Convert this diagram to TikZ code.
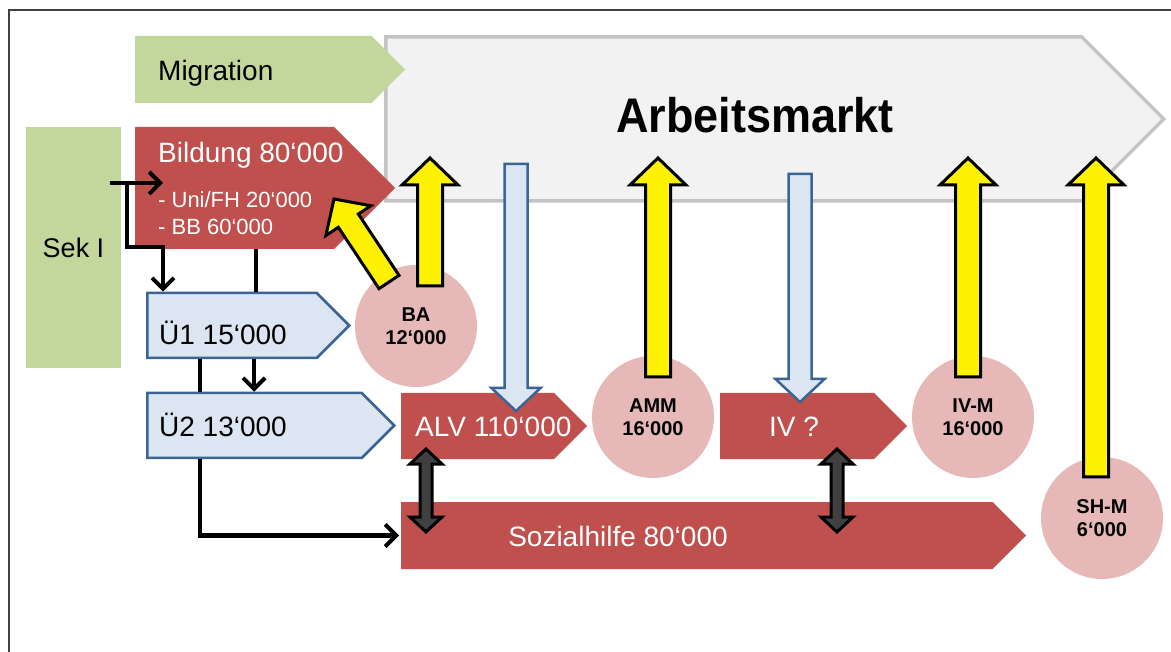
\documentclass[tikz,border=0pt]{standalone}
\usepackage{fontspec}
\setmainfont{Liberation Sans}
\usetikzlibrary{shapes.symbols,arrows.meta,calc,positioning}

\definecolor{migreen}{HTML}{C3D69B}
\definecolor{boxred}{HTML}{C0504D}
\definecolor{paleblue}{HTML}{DCE6F2}
\definecolor{edgeblue}{HTML}{3A6496}
\definecolor{rosy}{HTML}{E6B9B8}
\definecolor{marktgray}{HTML}{F2F2F2}
\definecolor{marktedge}{HTML}{C3C3C3}
\definecolor{darkfill}{HTML}{404040}

\tikzset{
  chev/.style={signal, signal to=east, signal pointer angle=90, inner sep=0pt, anchor=west},
  redchev/.style={chev, fill=boxred},
  bluechev/.style={chev, fill=paleblue, draw=edgeblue, line width=2.5pt},
  rund/.style={circle, fill=rosy, minimum size=122pt, inner sep=0pt, align=center,
    font=\bfseries\fontsize{20}{23}\selectfont},
  lbl/.style={inner sep=0pt, font=\fontsize{28}{32}\selectfont},
  wlbl/.style={lbl, text=white},
  sublbl/.style={inner sep=0pt, text=white, font=\fontsize{22}{26}\selectfont},
  pfad/.style={draw=black, line width=4.5pt},
  pfadpfeil/.style={pfad, -{Straight Barb[length=11pt,width=22pt,line width=4pt]}},
  yarrow/.style={fill=yellow, draw=black, line width=3pt},
  barrow/.style={fill=paleblue, draw=edgeblue, line width=2.5pt},
  darrow/.style={fill=darkfill, draw=black, line width=3pt},
}

% block arrow: style, from, to, half shaft, half head, head length
\newcommand{\fatarrow}[6][]{%
  \coordinate (fa-s) at (#2);
  \coordinate (fa-t) at (#3);
  \coordinate (fa-b) at ($(fa-t)!#6!(fa-s)$);
  \draw[#1] ($(fa-s)!#4!90:(fa-t)$) -- ($(fa-b)!#4!-90:(fa-s)$) -- ($(fa-b)!#5!-90:(fa-s)$)
    -- (fa-t) -- ($(fa-b)!#5!90:(fa-s)$) -- ($(fa-b)!#4!90:(fa-s)$) -- ($(fa-s)!#4!-90:(fa-t)$) -- cycle;
}
% double block arrow: style, tip a, tip b, half shaft, half head, head length
\newcommand{\dblarrow}[6][]{%
  \coordinate (da-a) at (#2);
  \coordinate (da-b) at (#3);
  \coordinate (da-ab) at ($(da-a)!#6!(da-b)$);
  \coordinate (da-bb) at ($(da-b)!#6!(da-a)$);
  \draw[#1] (da-a) -- ($(da-ab)!#5!90:(da-b)$) -- ($(da-ab)!#4!90:(da-b)$) -- ($(da-bb)!#4!-90:(da-a)$)
    -- ($(da-bb)!#5!-90:(da-a)$) -- (da-b) -- ($(da-bb)!#5!90:(da-a)$) -- ($(da-bb)!#4!90:(da-a)$)
    -- ($(da-ab)!#4!-90:(da-b)$) -- ($(da-ab)!#5!-90:(da-b)$) -- cycle;
}

\begin{document}
\begin{tikzpicture}[x=1pt,y=-1pt]
    \useasboundingbox (0,0) rectangle (1171,652);
    \draw[line width=1.5pt, black!75] (9,652) -- (9,10) -- (1171,10);

    % Arbeitsmarkt and inflows
    \node[chev, fill=marktgray, draw=marktedge, line width=3.5pt, minimum width=778pt, minimum height=164pt] (markt) at (384,119) {};
    \node[inner sep=0pt, anchor=base, yscale=1.08, font=\bfseries\fontsize{45}{50}\selectfont] (markt-l) at (755,133) {Arbeitsmarkt};
    \node[chev, fill=migreen, minimum width=270pt, minimum height=67pt] (mig) at (135,69.5) {};
    \node[lbl, anchor=base west] (mig-l) at (158,81) {Migration};

    \node[fill=migreen, minimum width=95pt, minimum height=241pt, inner sep=0pt, font=\fontsize{27}{30}\selectfont] (sek) at (73.5,247.5) {Sek I};

    \node[redchev, minimum width=260pt, minimum height=122pt] (bild) at (135,188) {};
    \node[wlbl, anchor=base west] (bild-l) at (158,163) {Bildung 80‘000};
    \node[sublbl, anchor=base west] (uni-l) at (158,208) {- Uni/FH 20‘000};
    \node[sublbl, anchor=base west] (bb-l) at (158,235) {- BB 60‘000};

    \node[bluechev, minimum width=202pt, minimum height=65pt] (ue1) at (146,325.5) {};
    \node[lbl, anchor=base west] (ue1-l) at (159,345) {Ü1 15‘000};
    \node[bluechev, minimum width=247pt, minimum height=65pt] (ue2) at (146,425.5) {};
    \node[lbl, anchor=base west] (ue2-l) at (159,437) {Ü2 13‘000};

    % Systeme
    \node[redchev, minimum width=186pt, minimum height=66pt] (alv) at (401,426) {};
    \node[wlbl, anchor=base west] (alv-l) at (415,436) {ALV 110‘000};
    \node[redchev, minimum width=187pt, minimum height=66pt] (iv) at (720,426) {};
    \node[wlbl, anchor=base] (iv-l) at (794,436) {IV ?};
    \node[redchev, minimum width=625pt, minimum height=67pt] (sozh) at (401,535.5) {};
    \node[wlbl, anchor=base] (sozh-l) at (618,546) {Sozialhilfe 80‘000};

    % Massnahmen
    \node[rund] (ba) at (416,326) {BA\\12‘000};
    \node[rund] (amm) at (653,417) {AMM\\16‘000};
    \node[rund] (ivm) at (973,417) {IV-M\\16‘000};
    \node[rund] (shm) at (1102,518) {SH-M\\6‘000};

    % Flows
    \coordinate (sekout) at (110,183);
    \coordinate (bildin) at (163,183);
    \coordinate (fork) at (127,183);
    \coordinate (bend) at (163,247);
    \coordinate (x256) at (256,0);
    \coordinate (x254) at (254,0);
    \coordinate (x200) at (200,0);
    \draw[pfadpfeil] (sekout) -- (bildin);
    \draw[pfadpfeil] (fork) |- (bend) -- (bend |- ue1.north);
    \draw[pfad] (bild.south -| x256) -- (ue1.north -| x256);
    \draw[pfadpfeil] (ue1.south -| x254) -- (ue2.north -| x254);
    \draw[pfad] (ue1.south -| x200) -- (ue2.north -| x200);
    \draw[pfadpfeil] (ue2.south -| x200) |- ([xshift=-2pt]sozh.west);

    % Abfluss in die Systeme
    \coordinate (alvtop) at (516,164);
    \coordinate (alvin) at (516,411);
    \coordinate (ivtop) at (800,174);
    \coordinate (ivin) at (800,402);
    \fatarrow[barrow]{alvtop}{alvin}{11.5pt}{24.5pt}{23pt}
    \fatarrow[barrow]{ivtop}{ivin}{11.5pt}{24.5pt}{23pt}

    % Rueckfluss in den Arbeitsmarkt
    \coordinate (uptip) at (0,158);
    \coordinate (baup) at ([shift={(14,21)}]ba.north);
    \coordinate (ammup) at ([shift={(5,21)}]amm.north);
    \coordinate (ivmup) at ([shift={(-5,21)}]ivm.north);
    \coordinate (shmup) at ([shift={(-6,20)}]shm.north);
    \fatarrow[yarrow]{baup}{baup |- uptip}{12.5pt}{28pt}{27pt}
    \fatarrow[yarrow]{ammup}{ammup |- uptip}{12.5pt}{28pt}{27pt}
    \fatarrow[yarrow]{ivmup}{ivmup |- uptip}{12.5pt}{28pt}{27pt}
    \fatarrow[yarrow]{shmup}{shmup |- uptip}{12.5pt}{28pt}{27pt}
    \coordinate (bastart) at (389,282);
    \coordinate (babild) at (334,199);
    \fatarrow[yarrow]{bastart}{babild}{12pt}{27pt}{26pt}

    % Wechsel ALV / IV - Sozialhilfe
    \coordinate (alvlo) at (426,449);
    \coordinate (sozhl) at (426,532);
    \coordinate (ivlo) at (837,449);
    \coordinate (sozhr) at (837,532);
    \dblarrow[darrow]{alvlo}{sozhl}{6pt}{16pt}{15pt}
    \dblarrow[darrow]{ivlo}{sozhr}{6pt}{16pt}{15pt}
\end{tikzpicture}
\end{document}
